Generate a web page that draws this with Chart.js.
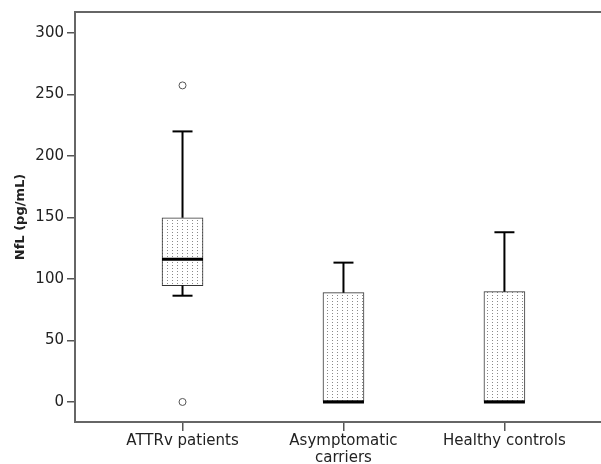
<!DOCTYPE html>
<html>
<head>
<meta charset="utf-8">
<script src="https://cdn.jsdelivr.net/npm/chart.js@4/dist/chart.umd.min.js"></script>
<style>
  html, body { margin: 0; padding: 0; background: #fff; }
  #wrap { width: 601px; height: 464px; }
</style>
</head>
<body>
<div id="wrap"><canvas id="nflChart"></canvas></div>
<script>
// groups and box plot values (pg/mL)
var categories = [['ATTRv patients'], ['Asymptomatic', 'carriers'], ['Healthy controls']]
var whiskerLow = [86.4, 0, 0]
var q1 = [94.6, 0, 0]
var median = [116, 0, 0]
var q3 = [149.8, 88.9, 89.7]
var whiskerHigh = [220, 113.3, 138]
var outliers = [[257.4, 0], [], []]
var yTickValues = [0, 50, 100, 150, 200, 250, 300]

// dotted fill like the SPSS box pattern
function dotPattern() {
  var c = document.createElement('canvas')
  c.width = 5
  c.height = 3
  var g = c.getContext('2d')
  g.fillStyle = '#fff'
  g.fillRect(0, 0, 5, 3)
  g.fillStyle = '#8a8a8a'
  g.fillRect(2, 1, 1, 1)
  return g.createPattern(c, 'repeat')
}

function boxData() {
  return q1.map((v, i) => ({x: i, y: [v, q3[i]]}))
}

function whiskerData() {
  var pts = []
  q1.forEach((v, i) => {
    pts.push({x: i, y: whiskerLow[i]}, {x: i, y: v}, {x: i, y: NaN})
    pts.push({x: i, y: q3[i]}, {x: i, y: whiskerHigh[i]}, {x: i, y: NaN})
  })
  return pts
}

function capData() {
  var pts = []
  whiskerLow.forEach((v, i) => {
    pts.push({x: i, y: v}, {x: i, y: whiskerHigh[i]})
  })
  return pts
}

function outlierData() {
  var pts = []
  outliers.forEach((list, i) => list.forEach((v) => pts.push({x: i, y: v})))
  return pts
}

var context = document.getElementById('nflChart').getContext('2d')
var nflChart = new Chart(context, {
  type: 'bar',
  data: {
    datasets: [{
      type: 'scatter',
      label: 'median',
      data: median.map((v, i) => ({x: i, y: v})),
      pointStyle: 'line',
      radius: 20.5,
      borderColor: '#000',
      borderWidth: 3,
      order: 0
    }, {
      type: 'scatter',
      label: 'outliers',
      data: outlierData(),
      pointStyle: 'circle',
      radius: 3.5,
      backgroundColor: '#fff',
      borderColor: '#555',
      borderWidth: 1,
      order: 1
    }, {
      type: 'scatter',
      label: 'caps',
      data: capData(),
      pointStyle: 'line',
      radius: 10,
      borderColor: '#000',
      borderWidth: 2,
      order: 2
    }, {
      type: 'scatter',
      label: 'whiskers',
      data: whiskerData(),
      showLine: true,
      spanGaps: false,
      pointRadius: 0,
      borderColor: '#000',
      borderWidth: 2,
      order: 3
    }, {
      type: 'bar',
      label: 'box',
      data: boxData(),
      backgroundColor: dotPattern(),
      borderColor: '#333',
      borderWidth: 1,
      borderSkipped: false,
      barThickness: 41,
      order: 4
    }]
  },
  options: {
    responsive: true,
    maintainAspectRatio: false,
    animation: false,
    layout: {autoPadding: false, padding: {top: 12, right: 0, bottom: 0, left: 0}},
    plugins: {legend: {display: false}, tooltip: {enabled: false}},
    scales: {
      x: {
        type: 'linear',
        offset: false,
        min: -0.668,
        max: 2.6,
        afterBuildTicks: (scale) => { scale.ticks = categories.map((c, i) => ({value: i})) },
        afterFit: (scale) => { scale.height = 42 },
        ticks: {
          callback: (v) => categories[v],
          color: '#222',
          padding: 2,
          maxRotation: 0,
          font: {family: 'DejaVu Sans', size: 15, lineHeight: 1.1}
        },
        grid: {offset: false, drawOnChartArea: false, drawTicks: true, tickLength: 9, color: '#555', lineWidth: 1.5},
        border: {display: true, color: '#666', width: 2}
      },
      xTop: {
        type: 'linear',
        position: 'top',
        offset: false,
        min: -0.668,
        max: 2.6,
        ticks: {display: false},
        grid: {display: false, drawTicks: false, offset: false},
        border: {display: true, color: '#666', width: 2},
        afterFit: (scale) => { scale.height = 0 }
      },
      y: {
        min: -16.3,
        max: 317.1,
        afterBuildTicks: (scale) => { scale.ticks = yTickValues.map((v) => ({value: v})) },
        afterFit: (scale) => { scale.width = 75 },
        ticks: {
          color: '#222',
          padding: 3,
          font: {family: 'DejaVu Sans', size: 15}
        },
        grid: {drawOnChartArea: false, drawTicks: true, tickLength: 8, color: '#555', lineWidth: 1.5},
        border: {display: true, color: '#666', width: 2},
        title: {
          display: true,
          text: 'NfL (pg/mL)',
          color: '#222',
          padding: {top: 13, bottom: 0},
          font: {family: 'DejaVu Sans', size: 13, weight: 'bold'}
        }
      }
    }
  }
})
</script>
</body>
</html>
